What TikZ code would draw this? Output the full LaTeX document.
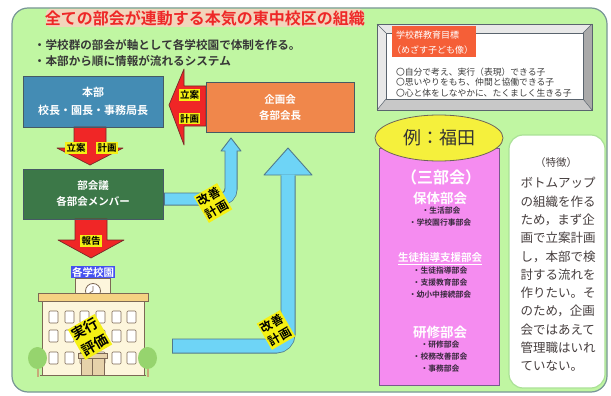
\documentclass[tikz,border=0pt]{standalone}
\usepackage{fontspec}
\setmainfont{Noto Sans CJK JP}[BoldFont={Noto Sans CJK JP Bold}]
\usetikzlibrary{shapes.geometric,calc}
\newcommand\fsz[2]{\fontsize{#1pt}{#2pt}\selectfont}

\definecolor{panelgreen}{RGB}{192,246,162}
\definecolor{paneledge}{RGB}{120,150,150}
\definecolor{titlered}{RGB}{238,40,40}
\definecolor{titleglow}{RGB}{255,205,195}
\definecolor{bullettext}{RGB}{55,55,55}
\definecolor{honbublue}{RGB}{68,140,180}
\definecolor{kikakuorange}{RGB}{240,135,75}
\definecolor{bukaigreen}{RGB}{60,120,72}
\definecolor{boxedge}{RGB}{70,90,100}
\definecolor{arrowred}{RGB}{240,38,38}
\definecolor{arrowedge}{RGB}{120,40,40}
\definecolor{tagyellow}{RGB}{245,240,20}
\definecolor{bluefill}{RGB}{110,212,246}
\definecolor{blueline}{RGB}{80,120,140}
\definecolor{exyellow}{RGB}{245,240,60}
\definecolor{ellipseedge}{RGB}{110,100,90}
\definecolor{bupink}{RGB}{245,140,240}
\definecolor{pinkedge}{RGB}{120,90,140}
\definecolor{itemtext}{RGB}{55,40,60}
\definecolor{noteedge}{RGB}{170,225,150}
\definecolor{notetext}{RGB}{70,62,62}
\definecolor{goallabel}{RGB}{245,95,55}
\definecolor{goaltext}{RGB}{60,60,60}
\definecolor{bevellight}{RGB}{232,232,232}
\definecolor{bevelmid}{RGB}{200,200,200}
\definecolor{beveldark}{RGB}{170,170,170}
\definecolor{frameedge}{RGB}{90,100,110}
\definecolor{schoolblue}{RGB}{70,80,240}
\definecolor{wallcream}{RGB}{253,246,220}
\definecolor{walledge}{RGB}{125,105,85}
\definecolor{roofband}{RGB}{245,210,130}
\definecolor{doortan}{RGB}{230,210,170}
\definecolor{treegreen}{RGB}{150,212,110}
\definecolor{trunktan}{RGB}{200,170,120}

\begin{document}
\begin{tikzpicture}[x=1pt,y=-1pt,
  every node/.style={inner sep=0pt,outer sep=0pt},
  orgbox/.style={draw=boxedge,line width=0.8pt,text=white,align=center,
    minimum width=140pt,minimum height=50pt},
  tag/.style={fill=tagyellow,text=black,inner sep=1.2pt,font=\bfseries\fsz{9.5}{10}},
  turnedtag/.style={fill=tagyellow,text=black,inner sep=1.5pt,rotate=30,align=center,
    font=\bfseries\fsz{12}{16}},
  redarrow/.style={fill=arrowred,draw=arrowedge,line width=0.7pt,line join=round},
  bluehead/.style={fill=bluefill,draw=blueline,line width=0.9pt,line join=round},
  headw/.style={text=white,font=\bfseries\fsz{13.5}{14}},
  item/.style={text=itemtext,font=\bfseries\fsz{7.8}{8}},
  goalline/.style={anchor=west,text=goaltext,font=\fsz{8.8}{9}},
  noteline/.style={anchor=base,text=notetext,font=\fsz{12.5}{13}},
  win/.style={fill=white,draw=walledge,line width=0.6pt,rounded corners=1pt}]

\useasboundingbox (0,0) rectangle (611,396);
\fill[white] (0,0) rectangle (611,396);

% green panel
\draw[draw=paneledge,fill=panelgreen,line width=1.2pt,rounded corners=16pt]
  (12,8) rectangle (607,392);

% heading on a soft pink haze
\fill[titleglow,rounded corners=4pt,opacity=0.8] (46,9) rectangle (364,27);
\node[font=\bfseries\fsz{16}{17},text=titlered] (title) at (205,18)
  {全ての部会が連動する本気の東中校区の組織};

\node[anchor=west,text=bullettext,font=\bfseries\fsz{11.6}{12}] (pt1) at (34,45)
  {・学校群の部会が軸として各学校園で体制を作る。};
\node[anchor=west,text=bullettext,font=\bfseries\fsz{11.6}{12}] (pt2) at (34,61)
  {・本部から順に情報が流れるシステム};

% goal frame (bevelled)
\fill[bevellight,draw=frameedge,line width=0.8pt] (377,24) rectangle (592,110);
\fill[beveldark] (592,24) -- (592,110) -- (583,99) -- (583,33) -- cycle;
\fill[bevelmid] (377,110) -- (592,110) -- (583,99) -- (386,99) -- cycle;
\draw[frameedge,line width=0.8pt] (377,24) rectangle (592,110);
\draw[fill=white,draw=frameedge,line width=0.8pt] (386,33) rectangle (583,99);
\draw[frameedge,line width=0.5pt] (377,24) -- (386,33) (592,24) -- (583,33)
  (377,110) -- (386,99) (592,110) -- (583,99);
\node[fill=goallabel,minimum width=84pt,minimum height=31pt] (goalhead) at (434,41.5) {};
\node[anchor=west,text=white,font=\fsz{9}{9}] (goalh1) at (396,35) {学校群教育目標};
\node[anchor=west,text=white,font=\fsz{9}{9}] (goalh2) at (392,50) {（めざす子ども像）};
\node[goalline] (goal1) at (396,72) {〇自分で考え、実行（表現）できる子};
\node[goalline] (goal2) at (396,82.5) {〇思いやりをもち、仲間と協働できる子};
\node[goalline] (goal3) at (396,93) {〇心と体をしなやかに、たくましく生きる子};

% organisation boxes
\node[orgbox,fill=honbublue,minimum height=51pt,font=\bfseries\fsz{11}{18}] (honbu)
  at (93,101.5) {本部\\校長・園長・事務局長};
\node[orgbox,fill=kikakuorange,minimum width=148pt,font=\bfseries\fsz{10.5}{16}] (kikaku)
  at (280,107) {企画会\\各部会長};
\node[orgbox,fill=bukaigreen,font=\bfseries\fsz{10.5}{16}] (bukai)
  at (93,194) {部会議\\各部会メンバー};

% red block arrows
\coordinate (r1) at ($(honbu.south)+(-3,0)$);
\draw[redarrow,shift={(r1)}] (-16,0) -- (-16,21) -- (-33,21) -- (0,38) -- (33,21)
  -- (16,21) -- (16,0) -- cycle;
\coordinate (r2) at ($(bukai.south)+(-2,0)$);
\draw[redarrow,shift={(r2)}] (-16,0) -- (-16,21) -- (-33,21) -- (0,39) -- (33,21)
  -- (16,21) -- (16,0) -- cycle;
\coordinate (r3) at (kikaku.west);
\draw[redarrow,shift={(r3)}] (0,-21) -- (-22,-21) -- (-22,-38) -- (-37,-2) -- (-22,38)
  -- (-22,19) -- (0,19) -- cycle;
% redraw box edges over the arrow roots
\draw[boxedge,line width=0.8pt] (honbu.south west) -- (honbu.south east);
\draw[boxedge,line width=0.8pt] (bukai.south west) -- (bukai.south east);
\draw[boxedge,line width=0.8pt] (kikaku.north west) -- (kikaku.south west);

\node[tag] (t1) at (76,148) {立案};
\node[tag] (t2) at (107,148) {計画};
\node[tag] (t3) at (91,241) {報告};
\node[tag] (t4) at (189.5,95) {立案};
\node[tag] (t5) at (189.5,118.5) {計画};

% light-blue improvement arrows
\coordinate (b1s) at ($(bukai.east)+(2,5)$);
\coordinate (b1t) at ($(kikaku.south west)+(25,6)$);
\draw[blueline,line width=13pt,rounded corners=10pt]
  ($(b1s)+(-1,0)$) -- (b1s -| b1t) -- ($(b1t)+(0,12.5)$);
\draw[bluehead] ($(b1t)+(-10,13)$) -- (b1t) -- ($(b1t)+(10,13)$) -- cycle;
\draw[bluefill,line width=11.2pt,rounded corners=9.5pt]
  (b1s) -- (b1s -| b1t) -- ($(b1t)+(0,12)$);

\coordinate (b2s) at (173,346);
\coordinate (b2t) at ($(kikaku.south)+(8,16)$);
\draw[blueline,line width=15pt,rounded corners=12pt]
  ($(b2s)+(-1,0)$) -- (b2s -| b2t) -- ($(b2t)+(0,27.5)$);
\draw[bluehead] ($(b2t)+(-24,27)$) -- (b2t) -- ($(b2t)+(24,27)$) -- cycle;
\draw[bluefill,line width=13.2pt,rounded corners=11.5pt]
  (b2s) -- (b2s -| b2t) -- ($(b2t)+(0,26.5)$);

\node[turnedtag] (kaizen1) at (213,203) {改善\\計画};
\node[turnedtag] (kaizen2) at (276,330) {改善\\計画};

% school building
\fill[wallcream,draw=walledge,line width=0.8pt] (75,278) rectangle (110,294);
\fill[white,draw=walledge,line width=0.8pt] (93,291) circle (7.5);
\draw[walledge,line width=0.8pt] (93,291) -- (93,286) (93,291) -- (89.5,293);
\fill[wallcream,draw=walledge,line width=0.8pt] (42,301) rectangle (144,375);
\fill[roofband,draw=walledge,line width=0.8pt] (38,293) rectangle (148,301);
\foreach \wx in {49,65,80,96,112,127}
  \foreach \wy in {311,330,352}
    \draw[win] (\wx,\wy) rectangle ++(9,12);
\fill[doortan,draw=walledge,line width=0.7pt] (78,353) rectangle (107,358);
\fill[doortan,draw=walledge,line width=0.7pt] (81,358) rectangle (104,375);
\draw[walledge,line width=0.6pt] (92.5,358) -- (92.5,375);
\draw[walledge,line width=0.9pt] (40,375) -- (146,375);
\foreach \tx in {37.5,147.5} {
  \draw[trunktan,line width=2pt] (\tx,362) -- (\tx,377);
  \fill[treegreen] (\tx,358) ellipse (9.5 and 11);
}
\node[fill=schoolblue,text=white,font=\bfseries\fsz{10.5}{11},inner sep=1.2pt]
  (gakko) at (93,272) {各学校園};
\node[turnedtag,font=\bfseries\fsz{14}{19}] (jikko) at (90,337) {実行\\評価};

% example: three committees
\node[draw=pinkedge,fill=bupink,line width=0.8pt,minimum width=120pt,minimum height=237pt]
  (sanbu) at (439,266.5) {};
\node[ellipse,draw=ellipseedge,fill=exyellow,line width=0.8pt,minimum width=128pt,
  minimum height=46pt,text=black!80,font=\fsz{18}{18}] (rei) at (439,138) {例：福田};
\node[text=white,font=\bfseries\fsz{16}{16}] (sanbuh) at (441,177) {（三部会）};
\node[headw] (hotai) at (440,198) {保体部会};
\node[item] (i11) at (441,211) {・生活部会};
\node[item] (i12) at (440,222.5) {・学校園行事部会};
\node[headw,font=\bfseries\fsz{10.5}{11}] (seito) at (440,258) {生徒指導支援部会};
\draw[white,line width=0.7pt] ($(seito.south west)+(0,1.2)$) -- ($(seito.south east)+(0,1.2)$);
\node[item] (i21) at (440,271) {・生徒指導部会};
\node[item] (i22) at (440,283) {・支援教育部会};
\node[item] (i23) at (440,294.5) {・幼小中接続部会};
\node[headw] (kenshu) at (440,332) {研修部会};
\node[item] (i31) at (440,345) {・研修部会};
\node[item] (i32) at (440,357) {・校務改善部会};
\node[item] (i33) at (440,369) {・事務部会};

% features note
\node[draw=noteedge,fill=white,line width=1.2pt,rounded corners=14pt,
  minimum width=96pt,minimum height=253pt] (note) at (557,261.5) {};
\node[text=notetext,font=\fsz{10.5}{11}] (notehead) at (556,163) {（特徴）};
\foreach \t [count=\i] in {ボトムアップ,の組織を作る,{ため，まず企},画で立案計画,
    {し，本部で検},討する流れを,作りたい。そ,{のため，企画},会ではあえて,
    管理職はいれ,ていない。}
  \node[noteline] (line\i) at (520.5,{187.8+(\i-1)*18.3}) [anchor=base west] {\t};

\end{tikzpicture}
\end{document}
